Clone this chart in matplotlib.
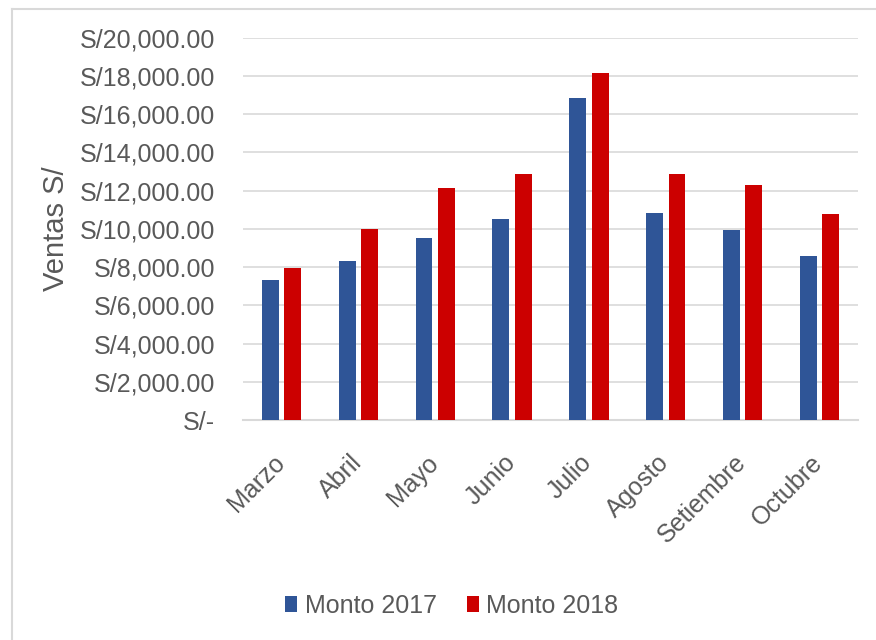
import numpy as np
import matplotlib.pyplot as plt
import matplotlib.transforms as mtransforms
from matplotlib.ticker import FuncFormatter
from matplotlib.lines import Line2D

# Ventas mensuales 2017 vs 2018
meses = ['Marzo', 'Abril', 'Mayo', 'Junio', 'Julio', 'Agosto', 'Setiembre', 'Octubre']
monto_2017 = [7350, 8330, 9540, 10530, 16830, 10850, 9920, 8580]
monto_2018 = [7970, 9980, 12120, 12850, 18170, 12850, 12310, 10790]

plt.rcParams['font.family'] = ['Liberation Sans', 'DejaVu Sans']
gris = '#595959'

fig = plt.figure(figsize=(8.76, 6.4), dpi=100)
ax = fig.add_axes([243 / 876, 1 - 420 / 640, (858 - 243) / 876, (420 - 37.7) / 640])

x = np.arange(len(meses))
w = 0.22
ax.bar(x - 0.145, monto_2017, w, color='#2F5597', label='Monto 2017', zorder=3)
ax.bar(x + 0.145, monto_2018, w, color='#CC0000', label='Monto 2018', zorder=3)

ax.set_xlim(-0.5, len(meses) - 0.5)
ax.set_ylim(0, 20000)
ax.set_yticks(np.arange(0, 20001, 2000))


def soles(v, pos):
    if v == 0:
        return 'S/-'
    return f'S/{v:,.2f}'


ax.yaxis.set_major_formatter(FuncFormatter(soles))
ax.grid(axis='y', color='#D9D9D9', linewidth=1.2, zorder=0)
for s in ['top', 'right', 'left']:
    ax.spines[s].set_visible(False)
ax.spines['bottom'].set_color('#D9D9D9')
ax.spines['bottom'].set_linewidth(1.5)

ax.set_xticks(x)
ax.set_xticklabels(meses, rotation=45, ha='right', va='top', rotation_mode='anchor')
ax.tick_params(axis='x', length=0, pad=22, labelsize=18, labelcolor=gris)
ax.tick_params(axis='y', length=0, pad=20, labelsize=18, labelcolor=gris)
ax.set_ylabel('Ventas S/', fontsize=21, color=gris, labelpad=7)

# correr las etiquetas del eje x un poco a la izquierda
desplaza = mtransforms.ScaledTranslation(-9 / 100, 0, fig.dpi_scale_trans)
for lbl in ax.get_xticklabels():
    lbl.set_transform(lbl.get_transform() + desplaza)

fig.legend(loc='center', bbox_to_anchor=(0.516, 0.0536), ncol=2, frameon=False,
           fontsize=18, labelcolor=gris, handlelength=0.48, handleheight=0.6,
           handletextpad=0.3, columnspacing=1.2)

# marco del grafico (solo borde superior e izquierdo visibles)
fig.add_artist(Line2D([12 / 876, 12 / 876], [0, 1 - 9 / 640], transform=fig.transFigure,
                      color='#D9D9D9', linewidth=1.5))
fig.add_artist(Line2D([12 / 876, 1], [1 - 9 / 640, 1 - 9 / 640], transform=fig.transFigure,
                      color='#D9D9D9', linewidth=1.5))

fig.savefig('out.png', dpi=100)
